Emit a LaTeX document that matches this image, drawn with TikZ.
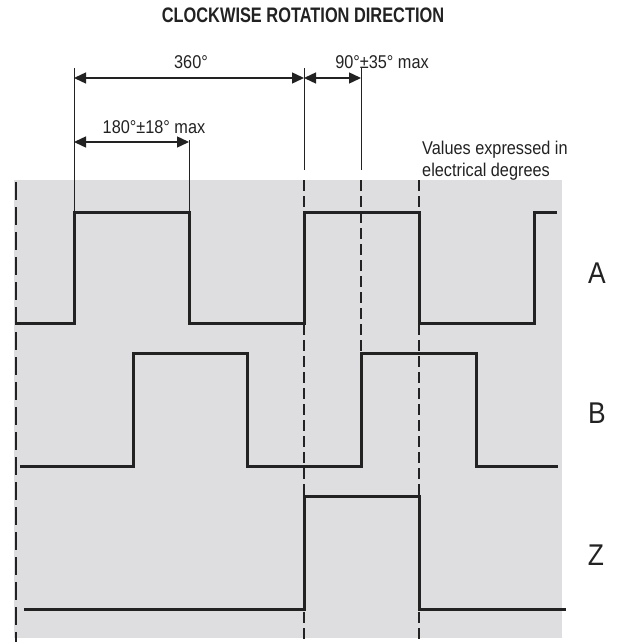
\documentclass[tikz,border=0pt]{standalone}
\usepackage{fontspec}
\setmainfont{Liberation Sans}[FakeStretch=0.88]
\newfontfamily\titlefont{Liberation Sans}[FakeStretch=0.78]
\usetikzlibrary{arrows.meta}
\definecolor{panelgray}{RGB}{222,221,223}
\definecolor{ink}{RGB}{34,34,34}
\tikzset{
  signal/.style={ink, line width=3pt},
  guide/.style={ink, line width=1.3pt, dash pattern=on 11pt off 5pt},
  border/.style={ink, line width=2.6pt, dash pattern=on 18pt off 7pt},
  extline/.style={ink, line width=1pt},
  dimline/.style={ink, line width=1.4pt, {Triangle[length=12pt,width=11pt]}-{Triangle[length=12pt,width=11pt]}},
  dimtext/.style={text=ink, font=\fontsize{18.5}{22}\selectfont, inner sep=0pt},
  chan/.style={text=ink, font=\fontsize{30}{32}\selectfont, inner sep=0pt},
}
\begin{document}
\begin{tikzpicture}[x=1pt,y=-1pt]
    \useasboundingbox (0,0) rectangle (618,642);
    \fill[panelgray] (14,180) rectangle (562,638);

    % title
    \node[text=ink, inner sep=0pt, font=\titlefont\bfseries\fontsize{21}{24}\selectfont] (title) at (303,15) {CLOCKWISE ROTATION DIRECTION};

    % dashed guides
    \draw[border] (16,182) -- (16,642);
    \draw[guide] (304,180) -- (304,640);
    \draw[guide] (361,180) -- (361,353);
    \draw[guide] (419,180) -- (419,640);

    % extension lines
    \draw[extline] (74,68) -- (74,212);
    \draw[extline] (189,140) -- (189,212);
    \draw[extline] (304,68) -- (304,170);
    \draw[extline] (361,68) -- (361,170);

    % channel A
    \draw[signal] (16,323) -- (74,323) -- (74,212) -- (189,212) -- (189,323) -- (304,323)
        -- (304,212) -- (419,212) -- (419,323) -- (534,323) -- (534,212) -- (557,212);
    % channel B
    \draw[signal] (20,466) -- (133,466) -- (133,353) -- (247,353) -- (247,466) -- (361,466)
        -- (361,353) -- (476,353) -- (476,466) -- (558,466);
    % channel Z
    \draw[signal] (24,609) -- (304,609) -- (304,496) -- (419,496) -- (419,609) -- (566,609);

    % dimensions
    \coordinate (fullL) at (74,78);
    \coordinate (fullR) at (304,78);
    \coordinate (phaseR) at (361,78);
    \coordinate (halfL) at (74,142);
    \coordinate (halfR) at (189,142);
    \draw[dimline] (fullL) -- (fullR);
    \draw[dimline] (fullR) -- (phaseR);
    \draw[dimline] (halfL) -- (halfR);
    \node[dimtext] (full) at (191,62) {360°};
    \node[dimtext] (phase) at (382,62) {90°±35° max};
    \node[dimtext] (half) at (154,127) {180°±18° max};
    \node[dimtext, align=left, anchor=north west] (note) at (422,141) {Values expressed in\\electrical degrees};

    % channel names
    \node[chan] (chA) at (597,273) {A};
    \node[chan] (chB) at (597,413) {B};
    \node[chan] (chZ) at (596,555) {Z};
\end{tikzpicture}
\end{document}
